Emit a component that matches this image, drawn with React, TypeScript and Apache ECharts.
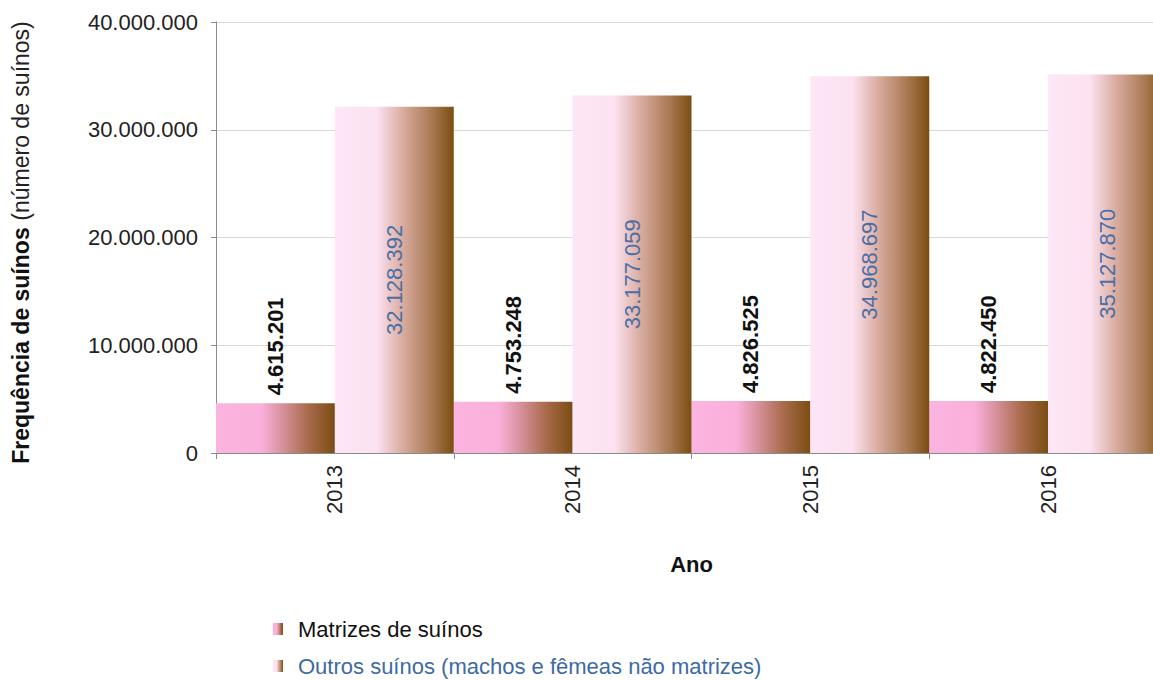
import React, { useEffect, useRef } from "react";
import * as echarts from "echarts";

const years = ["2013", "2014", "2015", "2016"];
const matrizes = [4615201, 4753248, 4826525, 4822450];
const outros = [32128392, 33177059, 34968697, 35127870];
const seriesNames = ["Matrizes de suínos", "Outros suínos (machos e fêmeas não matrizes)"];

const FONT = "Arial, 'Liberation Sans', sans-serif";
const FS = 22;
const fmt = (v: number) => String(Math.round(v)).replace(/\B(?=(\d{3})+(?!\d))/g, ".");

export default function App() {
  const ref = useRef<HTMLDivElement>(null);
  useEffect(() => {
    if (!ref.current) return;
    const chart = echarts.init(ref.current, null, { renderer: "svg" });
    const gradMatrizes = {
      type: "linear", x: 0, y: 0, x2: 1, y2: 0,
      colorStops: [
        { offset: 0, color: "#fbb4e0" },
        { offset: 0.38, color: "#fab0da" },
        { offset: 0.55, color: "#d8939f" },
        { offset: 0.78, color: "#a86a4a" },
        { offset: 1, color: "#7b4d12" },
      ],
    };
    const gradOutros = {
      type: "linear", x: 0, y: 0, x2: 1, y2: 0,
      colorStops: [
        { offset: 0, color: "#fde6f6" },
        { offset: 0.35, color: "#fde2f1" },
        { offset: 0.57, color: "#d9aca0" },
        { offset: 0.82, color: "#a87850" },
        { offset: 1, color: "#7b4d10" },
      ],
    };
    chart.setOption({
      animation: false,
      textStyle: { fontFamily: FONT },
      grid: { left: 216, right: -14, top: 22, bottom: 227, containLabel: false, outerBoundsMode: "none" },
      legend: {
        orient: "vertical",
        left: 273,
        top: 618,
        height: 62,
        padding: 0,
        icon: "rect",
        itemWidth: 10,
        itemHeight: 12,
        itemGap: 15,
        textStyle: { fontSize: FS, fontFamily: FONT, color: "#111", lineHeight: 22, padding: [0, 0, 0, 10] },
        data: [
          { name: seriesNames[0], textStyle: { color: "#111" } },
          { name: seriesNames[1], textStyle: { color: "#3d6aa3" } },
        ],
      },
      xAxis: {
        type: "category",
        data: years,
        name: "Ano",
        nameLocation: "middle",
        nameGap: 100,
        nameTextStyle: { fontSize: FS, fontWeight: "bold", color: "#111", fontFamily: FONT },
        axisLine: { lineStyle: { color: "#8a8a8a" } },
        axisTick: { show: true, length: 6, lineStyle: { color: "#8a8a8a" } },
        axisLabel: { rotate: 90, fontSize: FS, color: "#222", margin: 12, fontFamily: FONT },
      },
      yAxis: {
        type: "value",
        min: 0,
        max: 40000000,
        interval: 10000000,
        name: "{b|Frequência de suínos}  {n|(número de suínos)}",
        nameLocation: "middle",
        nameGap: 184,
        nameRotate: 90,
        nameTextStyle: {
          padding: [0, 10, 0, 0],
          rich: {
            b: { fontSize: 23, fontWeight: "bold", color: "#111", fontFamily: FONT },
            n: { fontSize: 23, color: "#222", fontFamily: FONT },
          },
        },
        axisLine: { show: true, lineStyle: { color: "#8a8a8a" } },
        axisTick: { show: true, length: 5, lineStyle: { color: "#8a8a8a" } },
        axisLabel: { fontSize: FS, color: "#222", margin: 18, fontFamily: FONT, formatter: (v: number) => fmt(v) },
        splitLine: { lineStyle: { color: "#d9d9d9" } },
      },
      series: [
        {
          name: seriesNames[0],
          type: "bar",
          data: matrizes,
          barGap: "0%",
          barCategoryGap: "0%",
          itemStyle: { color: gradMatrizes },
          label: {
            show: true,
            position: "top",
            rotate: 90,
            align: "left",
            verticalAlign: "middle",
            distance: 8,
            fontSize: FS,
            fontWeight: "bold",
            color: "#111",
            fontFamily: FONT,
            formatter: (p: any) => fmt(p.value),
          },
        },
        {
          name: seriesNames[1],
          type: "bar",
          data: outros,
          barGap: "0%",
          barCategoryGap: "0%",
          itemStyle: { color: gradOutros },
          label: {
            show: true,
            position: "inside",
            rotate: 90,
            fontSize: FS,
            color: "#4a6fa6",
            fontFamily: FONT,
            formatter: (p: any) => fmt(p.value),
          },
        },
      ],
    });
    return () => chart.dispose();
  }, []);
  return <div ref={ref} style={{ position: "absolute", left: 0, top: 0, width: 1153, height: 680, background: "#fff" }} />;
}
